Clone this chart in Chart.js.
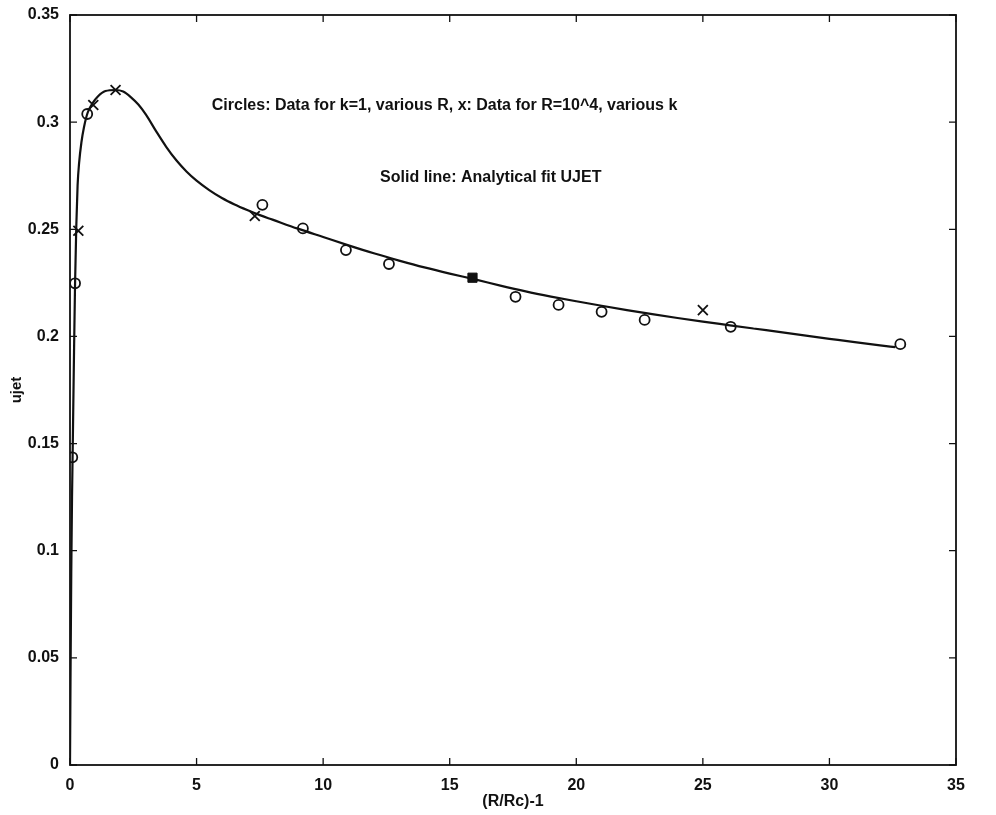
<!DOCTYPE html>
<html>
<head>
<meta charset="utf-8">
<title>ujet vs (R/Rc)-1</title>
<script src="https://cdn.jsdelivr.net/npm/chart.js@4.4.1/dist/chart.umd.min.js"></script>
<style>
  html, body { margin: 0; padding: 0; background: #ffffff; }
  #wrap { width: 996px; height: 815px; }
</style>
</head>
<body>
<div id="wrap"><canvas id="myChart" width="996" height="815"></canvas></div>
<script>
// Circles: data for k=1, various R
const circleX = [0.09, 0.2, 0.68, 7.6, 9.2, 10.9, 12.6, 17.6, 19.3, 21.0, 22.7, 26.1, 32.8];
const circleY = [0.1436, 0.2248, 0.3038, 0.2614, 0.2504, 0.2403, 0.2338, 0.2185, 0.2147, 0.2115, 0.2077, 0.2045, 0.1964];

// x: data for R=10^4, various k
const crossX = [0.33, 0.92, 1.8, 7.3, 25.0];
const crossY = [0.2493, 0.308, 0.315, 0.2562, 0.2123];

// point where both sets fall together (filled blob)
const bothX = [15.9];
const bothY = [0.2274];

// solid line: analytical fit UJET
const fitX = [0, 0.02, 0.05, 0.08, 0.11, 0.15, 0.2, 0.25, 0.3, 0.36, 0.45, 0.55, 0.7, 0.9, 1.1, 1.4, 1.8,
  2.1, 2.4, 2.7, 3.0, 3.4, 3.8, 4.2, 4.6, 5.0, 5.5, 6.0, 6.5, 7.0, 7.5, 8.0, 9.0, 10, 11, 12, 13, 14, 15,
  16, 17, 18, 19, 20, 21, 22, 23, 24, 25, 26, 27, 28, 29, 30, 31, 32, 32.6];
const fitY = [0, 0.04, 0.09, 0.125, 0.15, 0.185, 0.2248, 0.252, 0.2705, 0.281, 0.2905, 0.2975, 0.3045, 0.309, 0.312, 0.3145, 0.315,
  0.3143, 0.3117, 0.3082, 0.3035, 0.2958, 0.2885, 0.2822, 0.277, 0.2727, 0.2683, 0.2646, 0.2616, 0.259, 0.2566, 0.2545, 0.2503, 0.2464, 0.2425, 0.2388, 0.2354, 0.2322, 0.2293,
  0.2266, 0.2237, 0.221, 0.2186, 0.2164, 0.2143, 0.2123, 0.2104, 0.2086, 0.2069, 0.2053, 0.2037, 0.2021, 0.2005, 0.1989, 0.1973, 0.1958, 0.195];

// axis ticks
const xTicks = [0, 5, 10, 15, 20, 25, 30, 35];
const yTicks = [0, 0.05, 0.1, 0.15, 0.2, 0.25, 0.3, 0.35];

const ink = "#111111";
const boldFont = { family: "'Liberation Sans', Arial, sans-serif", size: 16, weight: "bold" };

function toPoints(xs, ys) {
  return xs.map((x, i) => ({ x: x, y: ys[i] }));
}

// frame, inward tick marks and the two text notes
const framePlugin = {
  id: "frame",
  afterDraw(chart) {
    const c = chart.ctx;
    const a = chart.chartArea;
    const xs = chart.scales.x;
    const ys = chart.scales.y;
    c.save();
    c.strokeStyle = ink;
    c.lineWidth = 1.8;
    c.strokeRect(a.left, a.top, a.right - a.left, a.bottom - a.top);
    c.lineWidth = 1.3;
    const len = 7;
    xTicks.forEach((v) => {
      const px = xs.getPixelForValue(v);
      c.beginPath();
      c.moveTo(px, a.bottom); c.lineTo(px, a.bottom - len);
      c.moveTo(px, a.top); c.lineTo(px, a.top + len);
      c.stroke();
    });
    yTicks.forEach((v) => {
      const py = ys.getPixelForValue(v);
      c.beginPath();
      c.moveTo(a.left, py); c.lineTo(a.left + len, py);
      c.moveTo(a.right, py); c.lineTo(a.right - len, py);
      c.stroke();
    });
    // notes
    c.fillStyle = ink;
    c.font = "bold 16px 'Liberation Sans', Arial, sans-serif";
    c.textAlign = "left";
    c.textBaseline = "middle";
    c.fillText("Circles: Data for k=1, various R, x: Data for R=10^4, various k",
      xs.getPixelForValue(5.6), ys.getPixelForValue(0.3075));
    c.fillText("Solid line: Analytical fit UJET",
      xs.getPixelForValue(12.25), ys.getPixelForValue(0.274));
    c.restore();
  },
};

const ctx = document.getElementById("myChart").getContext("2d");
const ujetChart = new Chart(ctx, {
  type: "scatter",
  data: {
    datasets: [
      {
        label: "both",
        data: toPoints(bothX, bothY),
        pointStyle: "rect",
        pointRadius: 6.5,
        backgroundColor: ink,
        borderColor: ink,
        borderWidth: 1,
      },
      {
        label: "x: R=10^4",
        data: toPoints(crossX, crossY),
        pointStyle: "crossRot",
        pointRadius: 7,
        borderColor: ink,
        borderWidth: 1.8,
      },
      {
        label: "circles: k=1",
        data: toPoints(circleX, circleY),
        pointStyle: "circle",
        pointRadius: 5,
        backgroundColor: "rgba(255,255,255,0)",
        borderColor: ink,
        borderWidth: 1.8,
      },
      {
        label: "UJET fit",
        data: toPoints(fitX, fitY),
        showLine: true,
        pointRadius: 0,
        borderColor: ink,
        borderWidth: 2.2,
        cubicInterpolationMode: "monotone",
      },
    ],
  },
  options: {
    responsive: false,
    animation: false,
    devicePixelRatio: 1,
    layout: { padding: { left: 0, right: 40, top: 15, bottom: 0 } },
    plugins: {
      legend: { display: false },
      tooltip: { enabled: false },
    },
    scales: {
      x: {
        type: "linear",
        min: 0,
        max: 35,
        afterFit: (s) => { s.height = 50; },
        afterBuildTicks: (s) => { s.ticks = xTicks.map((v) => ({ value: v })); },
        grid: { display: false },
        border: { display: false },
        ticks: { color: ink, font: boldFont, padding: 3, maxRotation: 0 },
        title: { display: true, text: "(R/Rc)-1", color: ink, font: boldFont, padding: { top: 0, bottom: 4 } },
      },
      y: {
        type: "linear",
        min: 0,
        max: 0.35,
        afterFit: (s) => { s.width = 70; },
        afterBuildTicks: (s) => { s.ticks = yTicks.map((v) => ({ value: v })); },
        grid: { display: false },
        border: { display: false },
        ticks: { color: ink, font: boldFont, padding: 3, callback: (v) => String(v) },
        title: { display: true, text: "ujet", color: ink, font: { family: boldFont.family, size: 15, weight: "bold" }, padding: { top: 8, bottom: 0 } },
      },
    },
  },
  plugins: [framePlugin],
});
</script>
</body>
</html>
